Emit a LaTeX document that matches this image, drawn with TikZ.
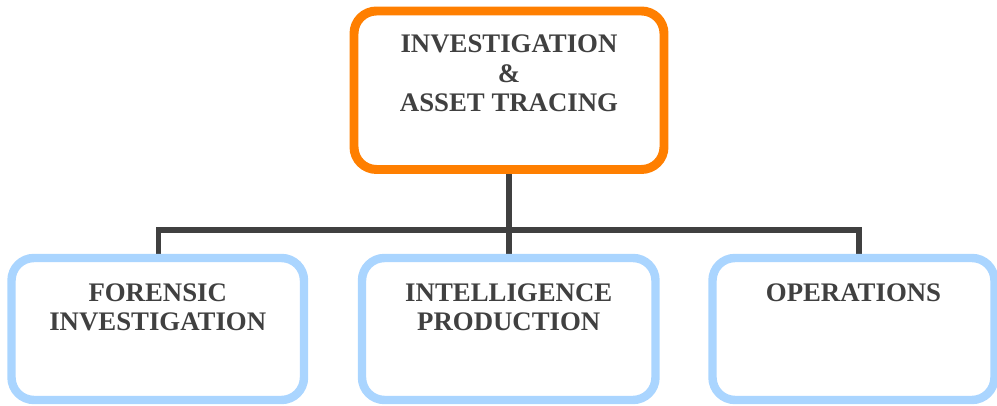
\documentclass[tikz,border=0pt]{standalone}
\usepackage{fontspec}
\setmainfont{Liberation Serif}
\usepackage{xcolor}
\usepackage{tikz}
\usetikzlibrary{positioning,backgrounds}

\definecolor{headorange}{RGB}{255,127,0}
\definecolor{unitblue}{RGB}{170,213,255}
\definecolor{inkgray}{RGB}{64,64,64}

\begin{document}
\begin{tikzpicture}[ % GLOBAL CFG
    font=\fontsize{15.25pt}{16.8pt}\selectfont\bfseries,
    text=inkgray,
    % Styles
    head/.style={% For the top box
        rectangle,
        rounded corners=4.5mm,
        draw=headorange,
        fill=white,
        line width=5.1pt,
        align=center,
        inner sep=0pt,
        minimum width=6.2cm,
        text height=2.02cm,
        text depth=1.15cm,
        },
    unit/.style={% For the lower boxes
        rectangle,
        rounded corners=4.5mm,
        draw=unitblue,
        fill=white,
        line width=4.8pt,
        align=center,
        inner sep=0pt,
        text height=1.46cm,
        text depth=1.38cm,
        },
    link/.style={% Connectors
        draw=inkgray,
        line width=3.4pt,
        line join=miter,
        },
    ]
    \useasboundingbox (0,0) rectangle (19.94,8.12);

    \node [head] (inv) at (10.18, 6.315) {INVESTIGATION\\\&\\ASSET TRACING};

    % Units
    \node [unit, minimum width=5.85cm] (fore) at (3.155, 1.54) {FORENSIC\\INVESTIGATION};
    \node [unit, minimum width=5.87cm] (intel) at (10.175, 1.54) {INTELLIGENCE\\PRODUCTION};
    \node [unit, minimum width=5.64cm, text height=0.88cm, text depth=1.96cm] (ops) at (17.07, 1.54) {OPERATIONS};

    % Tree lines
    \coordinate (busL) at (3.17, 3.52);
    \coordinate (busR) at (17.18, 3.52);
    \begin{scope}[on background layer]
    \draw [link] (inv.center) -- (inv.center |- busL);
    \draw [link] (fore.center -| busL) |- (busR) -- (ops.center -| busR);
    \draw [link] (intel.center) -- (intel.center |- busL);
    \end{scope}
\end{tikzpicture}
\end{document}
